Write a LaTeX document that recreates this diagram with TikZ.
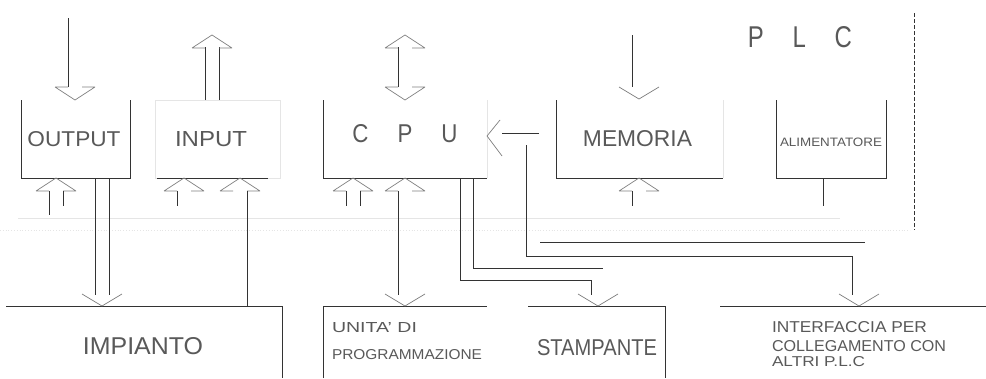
\documentclass[tikz,border=0pt]{standalone}
\usepackage{fontspec}
\setsansfont{Liberation Sans}
\usepackage{graphicx}
\tikzset{
  ln/.style={draw=black!80,line width=0.75pt},
  hd/.style={draw=black!50,line width=0.7pt},
  faint/.style={draw=black!10,line width=0.8pt},
  box/.style={draw=none,inner sep=0pt,outer sep=0pt,anchor=north west},
  lbl/.style={inner sep=0pt,outer sep=0pt,text=black!65,font=\sffamily},
  hup/.pic={\draw[hd] (-20,13) -- (-7,13) (7,13) -- (20,13) (-20,13) -- (0,0) -- (20,13);},
  hdn/.pic={\draw[hd] (-20,-13) -- (-7,-13) (7,-13) -- (20,-13) (-20,-13) -- (0,0) -- (20,-13);},
  vdn/.pic={\draw[hd] (-20,-12) -- (0,0) -- (20,-12);},
  vlt/.pic={\draw[hd] (13,-16) -- (0,0) -- (15,20);}
}
\begin{document}
\begin{tikzpicture}[x=1pt,y=-1pt]
\useasboundingbox[fill=white] (0,0) rectangle (986,378);
% faint background traces
\draw[faint] (18,218) -- (840,218);
\draw[faint,dotted] (0,230) -- (910,230);
\draw[faint] (155,100) rectangle (280,178);
% boxes
\node[box,minimum width=109pt,minimum height=78pt] (out) at (21,100) {};
\node[box,minimum width=111pt,minimum height=78pt] (inp) at (157,100) {};
\node[box,minimum width=164pt,minimum height=78pt] (cpu) at (323,100) {};
\node[box,minimum width=167pt,minimum height=78pt] (mem) at (556,100) {};
\node[box,minimum width=110pt,minimum height=78pt] (ali) at (776,100) {};
\node[box,minimum width=276pt,minimum height=72pt] (imp) at (6,306) {};
\node[box,minimum width=164pt,minimum height=72pt] (uni) at (323,306) {};
\node[box,minimum width=137pt,minimum height=72pt] (sta) at (528,306) {};
\node[box,minimum width=266pt,minimum height=72pt] (itf) at (720,306) {};
\draw[ln] (out.north west) -- (out.south west) -- (out.south east) -- (out.north east);
\draw[ln] (inp.south west) -- (inp.south east);
\draw[ln] (cpu.north west) -- (cpu.south west) -- (cpu.south east);
\draw[faint] (cpu.south east) -- (cpu.north east);
\draw[ln] (mem.north west) -- (mem.south west) -- (mem.south east);
\draw[faint] (mem.south east) -- (mem.north east);
\draw[ln] (ali.north west) -- (ali.south west) -- (ali.south east) -- (ali.north east);
\draw[ln] (imp.north west) -- (imp.north east) -- (imp.south east);
\draw[ln] (uni.south west) -- (uni.north west) -- (uni.north east);
\draw[ln] (sta.north west) -- (sta.north east) -- (sta.south east);
\draw[ln] (itf.north west) -- (itf.north east);
% labels
\node[lbl] (tplc) at (800,37.5) {\resizebox{104pt}{21pt}{P\hspace{1.2em}L\hspace{1.2em}C}};
\node[lbl] (tout) at (74,139.5) {\resizebox{93pt}{15pt}{OUTPUT}};
\node[lbl] (tinp) at (211,139) {\resizebox{72pt}{15pt}{INPUT}};
\node[lbl] (tcpu) at (405,134) {\resizebox{105pt}{18pt}{C\hspace{1.3em}P\hspace{1.3em}U}};
\node[lbl] (tmem) at (637.5,138.5) {\resizebox{109pt}{16pt}{MEMORIA}};
\node[lbl] (tali) at (831,142.5) {\resizebox{102pt}{8.5pt}{ALIMENTATORE}};
\node[lbl] (timp) at (143,346.5) {\resizebox{120pt}{17pt}{IMPIANTO}};
\node[lbl,anchor=west] (tuni1) at (332,328) {\resizebox{85pt}{10pt}{UNITA' DI}};
\node[lbl,anchor=west] (tuni2) at (332,355) {\resizebox{150pt}{10pt}{PROGRAMMAZIONE}};
\node[lbl] (tsta) at (597,348) {\resizebox{120pt}{16pt}{STAMPANTE}};
\node[lbl,anchor=west] (titf1) at (772,327.5) {\resizebox{155pt}{11pt}{INTERFACCIA PER}};
\node[lbl,anchor=west] (titf2) at (772,346.5) {\resizebox{174pt}{11pt}{COLLEGAMENTO CON}};
\node[lbl,anchor=west] (titf3) at (772,362) {\resizebox{93pt}{10pt}{ALTRI P.L.C}};
% top arrows
\coordinate (o1) at (68,18); \coordinate (o2) at (68,87);
\draw[ln] (o1) -- (o2); \pic at (75,100) {hdn};
\coordinate (i1) at (205,100); \coordinate (i2) at (205,47);
\coordinate (i3) at (219,100); \coordinate (i4) at (219,47);
\draw[ln] (i1) -- (i2) (i3) -- (i4); \pic at (212,35) {hup};
\coordinate (c1) at (398,47); \coordinate (c2) at (398,87);
\draw[ln] (c1) -- (c2); \pic at (405,35) {hup}; \pic at (405,100) {hdn};
\coordinate (m1) at (632,35); \coordinate (m2) at (632,87);
\draw[ln] (m1) -- (m2); \pic at (639,99) {vdn};
% memoria -> cpu
\coordinate (l1) at (539,133); \coordinate (l2) at (502,133);
\draw[ln] (l1) -- (l2); \pic at (487,136) {vlt};
% line to interfaccia
\coordinate (p1) at (526,145); \coordinate (p2) at (526,256);
\coordinate (p3) at (852,256); \coordinate (p4) at (852,295);
\draw[ln] (p1) -- (p2) -- (p3) -- (p4); \pic at (859,306) {vdn};
% output bottom
\pic at (56,178) {hup};
\coordinate (ob1) at (49,191); \coordinate (ob2) at (49,215);
\coordinate (ob3) at (63,191); \coordinate (ob4) at (63,206);
\draw[ln] (ob1) -- (ob2) (ob3) -- (ob4);
\coordinate (d1) at (95,178); \coordinate (d2) at (95,295);
\coordinate (d3) at (109,178); \coordinate (d4) at (109,295);
\draw[ln] (d1) -- (d2) (d3) -- (d4); \pic at (102,306) {vdn};
% input bottom
\pic at (184,178) {hup};
\coordinate (ib1) at (177,191); \coordinate (ib2) at (177,206);
\draw[ln] (ib1) -- (ib2);
\pic at (240,178) {hup};
\coordinate (ib3) at (247,191); \coordinate (ib4) at (247,306);
\draw[ln] (ib3) -- (ib4);
% cpu bottom
\pic at (353,178) {hup};
\coordinate (cb1) at (346,191); \coordinate (cb2) at (346,206);
\coordinate (cb3) at (360,191); \coordinate (cb4) at (360,206);
\draw[ln] (cb1) -- (cb2) (cb3) -- (cb4);
\pic at (405,178) {hup};
\coordinate (u1) at (398,191); \coordinate (u2) at (398,295);
\draw[ln] (u1) -- (u2); \pic at (405,306) {vdn};
\coordinate (s1) at (460,178); \coordinate (s2) at (460,280);
\coordinate (s3) at (591,280); \coordinate (s4) at (591,295);
\draw[ln] (s1) -- (s2) -- (s3) -- (s4); \pic at (598,306) {vdn};
\coordinate (t1) at (473,178); \coordinate (t2) at (473,268); \coordinate (t3) at (603,268);
\draw[ln] (t1) -- (t2) -- (t3);
\coordinate (h1) at (540,242); \coordinate (h2) at (865,242);
\draw[ln] (h1) -- (h2);
% memoria bottom
\pic at (639,178) {hup};
\coordinate (mb1) at (632,191); \coordinate (mb2) at (632,206);
\draw[ln] (mb1) -- (mb2);
% alimentatore
\coordinate (a1) at (823,178); \coordinate (a2) at (823,206);
\draw[ln] (a1) -- (a2);
% PLC boundary
\coordinate (b1) at (914,13); \coordinate (b2) at (914,230);
\draw[ln,dash pattern=on 4pt off 2pt] (b1) -- (b2);
\end{tikzpicture}
\end{document}
